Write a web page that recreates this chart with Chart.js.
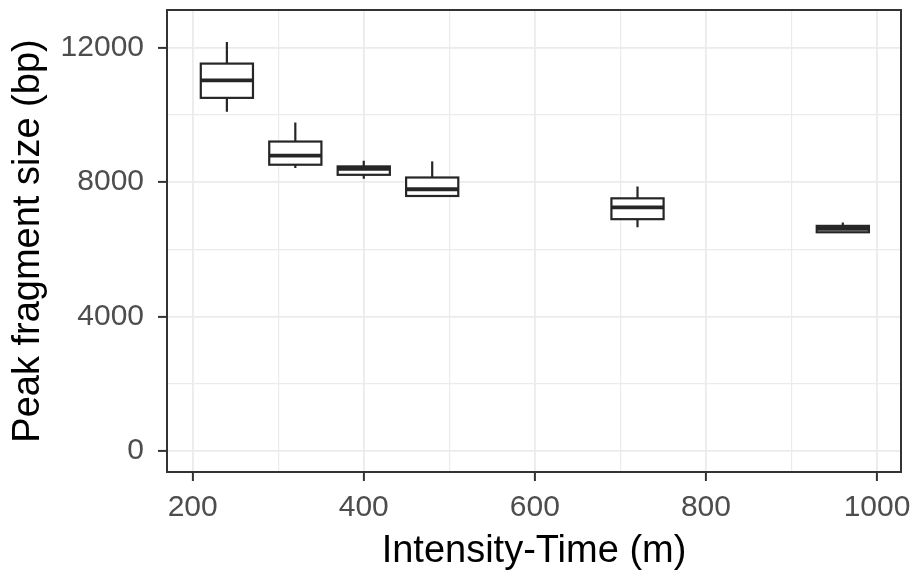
<!DOCTYPE html>
<html>
<head>
<meta charset="utf-8">
<script src="https://cdn.jsdelivr.net/npm/chart.js@4/dist/chart.umd.min.js"></script>
<style>
  html, body { margin: 0; padding: 0; background: #ffffff; }
  #wrap { width: 917px; height: 576px; }
</style>
</head>
<body>
<div id="wrap"><canvas id="c" width="917" height="576"></canvas></div>
<script>
// ---- data ----
const intensityTime = [240, 320, 400, 480, 720, 960];
const whiskerLow    = [10100, 8420, 8100, 7590, 6660, 6510];
const q1Values      = [10510, 8520, 8220, 7590, 6900, 6510];
const medianValues  = [11030, 8790, 8400, 7790, 7250, 6610];
const q3Values      = [11530, 9210, 8470, 8140, 7520, 6700];
const whiskerHigh   = [12170, 9780, 8636, 8620, 7870, 6800];

const xMajorTicks = [200, 400, 600, 800, 1000];
const xMinorTicks = [300, 500, 700, 900];
const yMajorTicks = [0, 4000, 8000, 12000];
const yMinorTicks = [2000, 6000, 10000];

const xTitle = 'Intensity-Time (m)';
const yTitle = 'Peak fragment size (bp)';

// ---- style ----
const BOX_WIDTH_UNITS = 61;
const FONT = '"Liberation Sans", Arial, sans-serif';

const boxPlugin = {
  id: 'boxplot',
  afterDatasetsDraw(chart) {
    const ctx = chart.ctx;
    const xs = chart.scales.x, ys = chart.scales.y;
    ctx.save();
    ctx.strokeStyle = '#262626';
    ctx.lineCap = 'butt';
    for (let i = 0; i < intensityTime.length; i++) {
      const xv = intensityTime[i];
      const cx = xs.getPixelForValue(xv);
      const l = xs.getPixelForValue(xv - BOX_WIDTH_UNITS / 2);
      const r = xs.getPixelForValue(xv + BOX_WIDTH_UNITS / 2);
      const yLo = ys.getPixelForValue(whiskerLow[i]);
      const yQ1 = ys.getPixelForValue(q1Values[i]);
      const yMed = ys.getPixelForValue(medianValues[i]);
      const yQ3 = ys.getPixelForValue(q3Values[i]);
      const yHi = ys.getPixelForValue(whiskerHigh[i]);
      // whiskers
      ctx.lineWidth = 2.2;
      ctx.beginPath();
      ctx.moveTo(cx, yQ3); ctx.lineTo(cx, yHi);
      ctx.moveTo(cx, yQ1); ctx.lineTo(cx, yLo);
      ctx.stroke();
      // box
      ctx.fillStyle = '#ffffff';
      ctx.fillRect(l, yQ3, r - l, yQ1 - yQ3);
      ctx.strokeRect(l, yQ3, r - l, yQ1 - yQ3);
      // median
      ctx.lineWidth = 3.8;
      ctx.beginPath();
      ctx.moveTo(l, yMed); ctx.lineTo(r, yMed);
      ctx.stroke();
    }
    ctx.restore();
  },
  afterDraw(chart) {
    const a = chart.chartArea;
    const ctx = chart.ctx;
    ctx.save();
    ctx.strokeStyle = '#333333';
    ctx.lineWidth = 2;
    ctx.strokeRect(a.left, a.top, a.right - a.left, a.bottom - a.top);
    ctx.restore();
  }
};

const isMajorX = v => xMajorTicks.includes(v);
const isMajorY = v => yMajorTicks.includes(v);

new Chart(document.getElementById('c'), {
  type: 'scatter',
  data: {
    datasets: [{
      data: intensityTime.map((x, i) => ({ x: x, y: medianValues[i] })),
      pointRadius: 0,
      pointHoverRadius: 0,
      showLine: false
    }]
  },
  options: {
    responsive: false,
    animation: false,
    events: [],
    layout: { padding: { top: 10, right: 16, left: 0, bottom: 0 } },
    plugins: { legend: { display: false }, tooltip: { enabled: false } },
    scales: {
      x: {
        type: 'linear',
        min: 170,
        max: 1028,
        afterBuildTicks(scale) {
          scale.ticks = xMajorTicks.concat(xMinorTicks).sort((a, b) => a - b).map(v => ({ value: v }));
        },
        afterFit(scale) {
          scale.height = 104;
          scale.paddingLeft = 0; scale.paddingRight = 0;
          scale.paddingTop = 0; scale.paddingBottom = 0;
        },
        border: { display: false },
        grid: {
          color: '#EBEBEB',
          lineWidth: ctx => (ctx.tick && isMajorX(ctx.tick.value)) ? 1.8 : 1.2,
          tickColor: ctx => (ctx.tick && isMajorX(ctx.tick.value)) ? '#333333' : 'rgba(0,0,0,0)',
          tickWidth: 2,
          tickLength: 9,
          drawTicks: true
        },
        ticks: {
          autoSkip: false,
          maxRotation: 0,
          padding: 9,
          color: '#4D4D4D',
          font: { family: FONT, size: 30 },
          callback: v => isMajorX(v) ? String(v) : ''
        },
        title: {
          display: true,
          text: xTitle,
          color: '#000000',
          font: { family: FONT, size: 38 },
          padding: { top: 0, bottom: 2 }
        }
      },
      y: {
        type: 'linear',
        min: -625,
        max: 13125,
        afterBuildTicks(scale) {
          scale.ticks = yMajorTicks.concat(yMinorTicks).sort((a, b) => a - b).map(v => ({ value: v }));
        },
        afterFit(scale) {
          scale.width = 167;
          scale.paddingLeft = 0; scale.paddingRight = 0;
          scale.paddingTop = 0; scale.paddingBottom = 0;
        },
        border: { display: false },
        grid: {
          color: '#EBEBEB',
          lineWidth: ctx => (ctx.tick && isMajorY(ctx.tick.value)) ? 1.8 : 1.2,
          tickColor: ctx => (ctx.tick && isMajorY(ctx.tick.value)) ? '#333333' : 'rgba(0,0,0,0)',
          tickWidth: 2,
          tickLength: 9,
          drawTicks: true
        },
        ticks: {
          autoSkip: false,
          padding: 14,
          color: '#4D4D4D',
          font: { family: FONT, size: 30 },
          callback: v => isMajorY(v) ? String(v) : ''
        },
        title: {
          display: true,
          text: yTitle,
          color: '#000000',
          font: { family: FONT, size: 38 },
          padding: { top: 6, bottom: 0 }
        }
      }
    }
  },
  plugins: [boxPlugin]
});
</script>
</body>
</html>
